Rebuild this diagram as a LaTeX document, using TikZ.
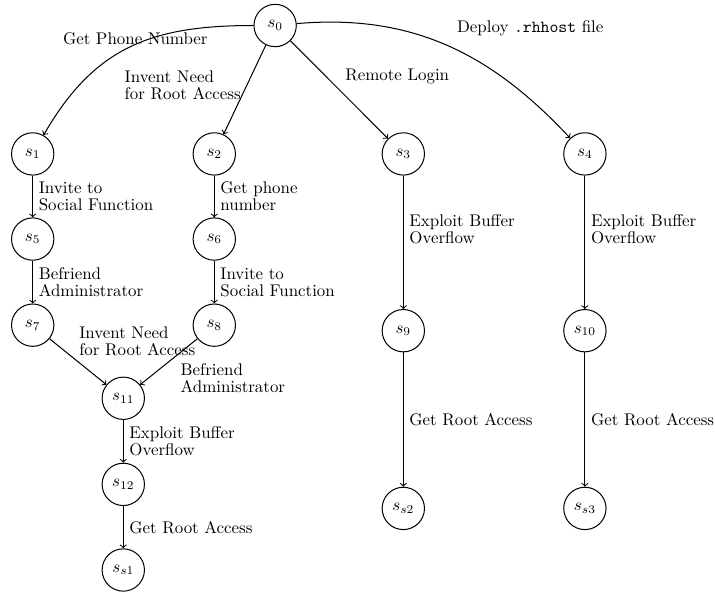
\documentclass[tikz,border=0pt]{standalone}
\begin{document}
\begin{tikzpicture}[
  state/.style={circle,draw,semithick,minimum size=0.88cm,inner sep=0pt},
  edge/.style={->,semithick},
  lbl/.style={font=\fontsize{10}{10}\selectfont,align=left}
]
\useasboundingbox (0,0) rectangle (14.865,-12.37);

% Start state
\node[state] (s0) at (5.72,-0.53) {$s_0$};

% First level
\node[state] (s1) at (0.68,-3.20) {$s_1$};
\node[state] (s2) at (4.455,-3.20) {$s_2$};
\node[state] (s3) at (8.385,-3.20) {$s_3$};
\node[state] (s4) at (12.16,-3.20) {$s_4$};

% Left branches
\node[state] (s5) at (0.68,-4.97) {$s_5$};
\node[state] (s6) at (4.455,-4.97) {$s_6$};
\node[state] (s7) at (0.68,-6.76) {$s_7$};
\node[state] (s8) at (4.455,-6.76) {$s_8$};
\node[state] (s11) at (2.563,-8.28) {$s_{11}$};
\node[state] (s12) at (2.563,-10.07) {$s_{12}$};
\node[state] (ss1) at (2.563,-11.85) {$s_{s1}$};

% Right branches
\node[state] (s9) at (8.385,-6.875) {$s_9$};
\node[state] (s10) at (12.16,-6.875) {$s_{10}$};
\node[state] (ss2) at (8.385,-10.57) {$s_{s2}$};
\node[state] (ss3) at (12.16,-10.57) {$s_{s3}$};

% Edges from s0
\draw[edge] (s0) to[out=180,in=60,looseness=1.1] node[lbl,pos=0.4,xshift=-0.31cm] {Get Phone Number} (s1);
\draw[edge] (s0) -- (s2) node[lbl,pos=0.45,left] {Invent Need\\for Root Access};
\draw[edge] (s0) -- (s3) node[lbl,pos=0.5,above right] {Remote Login};
\draw[edge] (s0) to[out=5,in=133] node[lbl,pos=0.5,above right,xshift=0.08cm,yshift=0.06cm] {Deploy \texttt{.rhhost} file} (s4);

% Left chains
\draw[edge] (s1) -- (s5) node[lbl,midway,right] {Invite to\\Social Function};
\draw[edge] (s5) -- (s7) node[lbl,midway,right] {Befriend\\Administrator};
\draw[edge] (s2) -- (s6) node[lbl,midway,right] {Get phone\\number};
\draw[edge] (s6) -- (s8) node[lbl,midway,right] {Invite to\\Social Function};
\draw[edge] (s7) -- (s11) node[lbl,midway,above right,xshift=-0.1cm] {Invent Need\\for Root Access};
\draw[edge] (s8) -- (s11) node[lbl,pos=0.4,below right] {Befriend\\Administrator};
\draw[edge] (s11) -- (s12) node[lbl,midway,right] {Exploit Buffer\\Overflow};
\draw[edge] (s12) -- (ss1) node[lbl,midway,right] {Get Root Access};

% Right chains
\draw[edge] (s3) -- (s9) node[lbl,pos=0.4,right] {Exploit Buffer\\Overflow};
\draw[edge] (s9) -- (ss2) node[lbl,midway,right] {Get Root Access};
\draw[edge] (s4) -- (s10) node[lbl,pos=0.4,right] {Exploit Buffer\\Overflow};
\draw[edge] (s10) -- (ss3) node[lbl,midway,right] {Get Root Access};

\end{tikzpicture}
\end{document}
